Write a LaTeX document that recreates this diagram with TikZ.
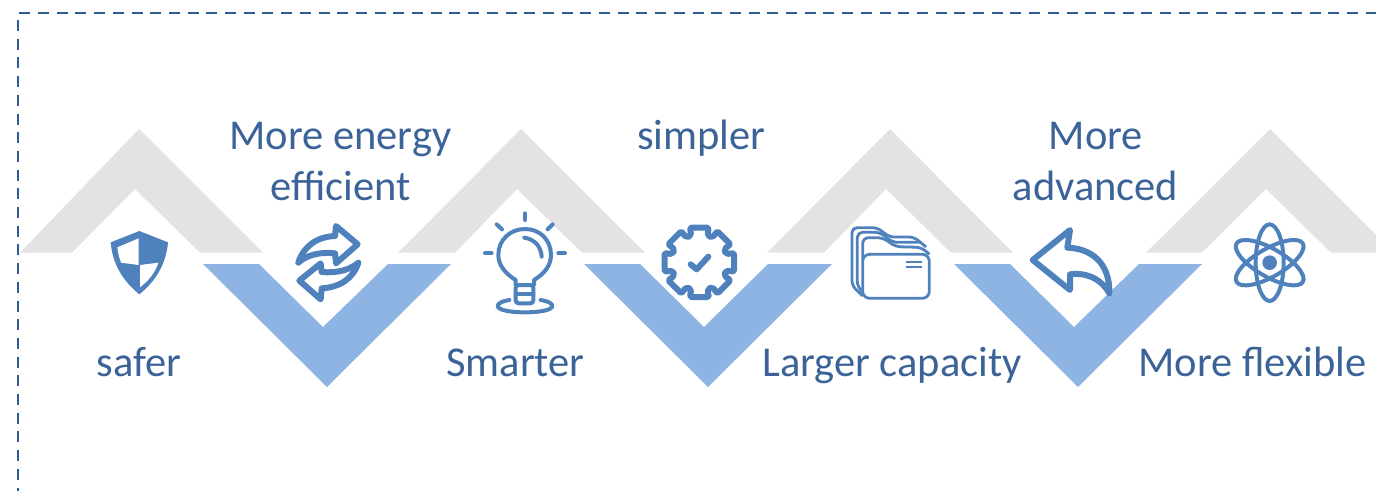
\documentclass[tikz,border=0pt]{standalone}
\usepackage{fontspec}
\setmainfont{Carlito}
\definecolor{grayC}{HTML}{E3E3E3}
\definecolor{blueC}{HTML}{8EB4E3}
\definecolor{iconC}{HTML}{4F81BD}
\definecolor{textC}{HTML}{3B6398}
\definecolor{dashC}{HTML}{2F5B93}
\tikzset{
  graychev/.style={fill=grayC,draw=none},
  bluechev/.style={fill=blueC,draw=none},
  lbl/.style={text=textC,font=\fontsize{42.5}{42.5}\selectfont,anchor=base,inner sep=0pt},
  frameline/.style={draw=dashC,line width=2.7pt,dash pattern=on 11pt off 7.7pt},
  icon/.style={draw=iconC,line width=4pt,line join=round,line cap=round},
  thick icon/.style={draw=iconC,line width=6pt,line join=round,line cap=round},
  fold/.style={draw=iconC,line width=2.8pt,line join=round},
  zoomed/.style={x=0.33333pt,y=-0.33333pt}
}
\begin{document}
\begin{tikzpicture}[x=1pt,y=-1pt]
\useasboundingbox (0,0) rectangle (1376,491);
% frame
\draw[frameline] (19.3,13) -- (1376,13);
\draw[frameline] (18,20) -- (18,491);
% gray chevrons
\fill[graychev] (20,252.7) -- (139,129) -- (263,252.7) -- (200,252.7) -- (135,189) -- (72,252.7) -- cycle;
\fill[graychev] (398,252.7) -- (521,129) -- (645,252.7) -- (582,252.7) -- (517,189) -- (455,252.7) -- cycle;
\fill[graychev] (767,252.7) -- (890,129) -- (1013,252.7) -- (951,252.7) -- (886,189) -- (824,252.7) -- cycle;
\fill[graychev] (1146,252.7) -- (1270,129) -- (1376,235) -- (1376,252.7) -- (1331,252.7) -- (1266,189) -- (1202,252.7) -- cycle;
% blue chevrons
\fill[bluechev] (203,264) -- (259,264) -- (323,327) -- (388,264) -- (451,264) -- (327,387) -- cycle;
\fill[bluechev] (584,264) -- (640,264) -- (704,327) -- (768,264) -- (832,264) -- (708,387) -- cycle;
\fill[bluechev] (954,264) -- (1010,264) -- (1074,327) -- (1139,264) -- (1202,264) -- (1078,387) -- cycle;
% shield and recycle icons
\begin{scope}[shift={(90,210)},zoomed]
  \fill[iconC,line join=round] (148,63) -- (234,97) .. controls (228,165) and (195,215) .. (148,253) .. controls (101,215) and (68,165) .. (62,97) -- cycle;
  \fill[white] (146,85) -- (146,165) -- (93,158) .. controls (87,142) and (84,128) .. (82,112) -- cycle;
  \fill[white] (150,165) -- (205,158) .. controls (195,190) and (175,212) .. (150,232) -- cycle;
  \draw[thick icon] (625,158) .. controls (640,110) and (680,80) .. (735,78) -- (738,48) -- (803,103) -- (738,160) -- (735,130) .. controls (690,125) and (650,135) .. (625,158) -- cycle;
  \draw[thick icon] (805,158) .. controls (790,205) and (750,232) .. (695,235) -- (692,268) -- (628,212) -- (692,160) -- (695,186) .. controls (740,190) and (780,180) .. (805,158) -- cycle;
\end{scope}
% bulb and gear icons
\begin{scope}[shift={(470,205)},zoomed]
  \draw[icon] (137,240) -- (137,225) .. controls (105,205) and (85,180) .. (85,150) .. controls (85,105) and (120,72) .. (165,72) .. controls (210,72) and (243,105) .. (243,150) .. controls (243,180) and (225,205) .. (192,225) -- (192,240);
  \draw[icon,rounded corners=3pt] (137,240) -- (137,295) -- (190,295) -- (190,240) -- cycle;
  \draw[icon] (137,268) -- (190,268);
  \draw[icon] (163,98) .. controls (195,103) and (213,125) .. (215,155);
  \draw[icon] (165,25) -- (165,45);
  \draw[icon] (80,58) -- (96,73);
  \draw[icon] (248,58) -- (233,73);
  \draw[icon] (45,145) -- (65,145);
  \draw[icon] (265,145) -- (285,145);
  \draw[icon] (118,285) .. controls (97,288) and (83,295) .. (83,303) .. controls (83,315) and (120,322) .. (165,322) .. controls (210,322) and (247,315) .. (247,303) .. controls (247,295) and (233,288) .. (212,285);
  \begin{scope}[shift={(688,172)}]
    \draw[thick icon,rounded corners=2pt] (75:108)
      \foreach \a in {90,45,0,-45,-90,-135,180,135} {
        -- (\a-15:108) -- (\a-17:84) -- (\a-28:84) -- (\a-30:108)
      } -- cycle;
    \draw[iconC,line width=6pt,line cap=round,line join=round] (-26,6) -- (-8,21) -- (27,-17);
  \end{scope}
\end{scope}
% folder and undo icons
\begin{scope}[shift={(840,215)},zoomed]
  \draw[fold,rounded corners=5pt] (68,243) -- (36,212) -- (36,38) -- (112,38) -- (148,66) -- (222,66) -- (258,96);
  \draw[fold,rounded corners=5pt] (68,230) -- (52,215) -- (52,52) -- (120,52) -- (158,82) -- (238,82);
  \draw[fold,rounded corners=6pt] (68,135) -- (68,68) -- (130,68) -- (165,95) -- (245,97) -- (268,118);
  \draw[fold,rounded corners=7pt] (68,118) rectangle (268,250);
  \draw[draw=iconC,line width=2pt] (198,140) -- (246,140);
  \draw[draw=iconC,line width=2pt] (198,155) -- (246,155);
  \draw[thick icon] (578,135) -- (690,45) -- (682,98) .. controls (750,100) and (810,140) .. (808,235) .. controls (780,185) and (730,172) .. (690,178) -- (690,225) -- cycle;
\end{scope}
% atom icon
\begin{scope}[shift={(1140,120)},zoomed]
  \begin{scope}[shift={(389,428)}]
    \draw[icon] (0,0) ellipse [x radius=42,y radius=115];
    \draw[icon,rotate=60] (0,0) ellipse [x radius=42,y radius=115];
    \draw[icon,rotate=-60] (0,0) ellipse [x radius=42,y radius=115];
    \fill[iconC] (0,0) circle [radius=22];
  \end{scope}
\end{scope}
% labels
\node[lbl] (safer) at (139,376.5) {safer};
\node[lbl] (energy) at (340.5,149.5) {More energy};
\node[lbl] (efficient) at (340.5,200.5) {efficient};
\node[lbl] (smarter) at (515.5,376.5) {Smarter};
\node[lbl] (simpler) at (701.5,149.5) {simpler};
\node[lbl] (capacity) at (892,376.5) {Larger capacity};
\node[lbl] (more) at (1096,149.5) {More};
\node[lbl] (advanced) at (1095.5,200.5) {advanced};
\node[lbl] (flexible) at (1252.5,376.5) {More flexible};
\end{tikzpicture}
\end{document}
